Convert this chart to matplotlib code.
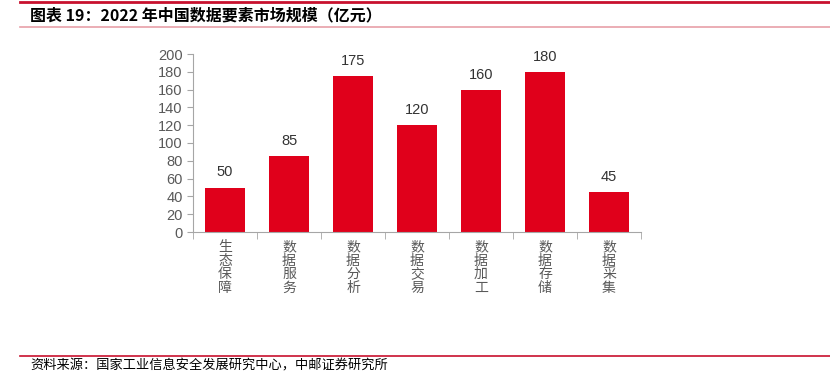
import numpy as np
import matplotlib.pyplot as plt
from matplotlib.lines import Line2D

plt.rcParams['font.family'] = ['Noto Sans CJK SC', 'DejaVu Sans']

# data
categories = ["生态保障", "数据服务", "数据分析", "数据交易", "数据加工", "数据存储", "数据采集"]
values = [50, 85, 175, 120, 160, 180, 45]
yticks = [0, 20, 40, 60, 80, 100, 120, 140, 160, 180, 200]

red = "#e0001b"
grey = "#595959"
num_font = ["Liberation Sans", "DejaVu Sans"]

fig = plt.figure(figsize=(8.3, 3.75), dpi=100)
W, H = 830, 375

# header / footer lines
fig.add_artist(Line2D([20 / W, 1], [1 - 2 / H, 1 - 2 / H], color="#c8102e", lw=2))
fig.add_artist(Line2D([20 / W, 1], [1 - 27 / H, 1 - 27 / H], color="#e8a0a8", lw=1.2))
fig.add_artist(Line2D([20 / W, 1], [1 - 356 / H, 1 - 356 / H], color="#c8102e", lw=1.2))

fig.text(30 / W, 1 - 15 / H, "图表 19：2022 年中国数据要素市场规模（亿元）",
         fontsize=11.5, fontweight="bold", va="center", ha="left", color="black")
fig.text(30 / W, 1 - 366 / H, "资料来源：国家工业信息安全发展研究中心，中邮证券研究所",
         fontsize=9.5, va="center", ha="left", color="black")

# axes area: x 193..641, y 54..232 (pixels)
ax = fig.add_axes([193 / W, 1 - 232 / H, (641 - 193) / W, (232 - 54) / H])
x = np.arange(len(categories))
ax.bar(x, values, width=0.625, color=red)
for xi, v in zip(x, values):
    ax.text(xi, v + 9, str(v), ha="center", va="bottom", fontsize=10.5,
            color="#333333", family=num_font)

ax.set_xlim(-0.5, len(categories) - 0.5)
ax.set_ylim(0, 200)
ax.set_yticks(yticks)
ax.set_yticklabels([str(t) for t in yticks], family=num_font)
ax.tick_params(axis="y", labelsize=10.5, labelcolor=grey, color="#a6a6a6", length=4)

ax.set_xticks(x)
ax.set_xticklabels(["\n".join(c) for c in categories], fontsize=10, color=grey, linespacing=0.95)
ax.tick_params(axis="x", length=0, pad=6)
ax.set_xticks(np.arange(len(categories) + 1) - 0.5, minor=True)
ax.tick_params(axis="x", which="minor", length=5, color="#a6a6a6")

for s in ["top", "right"]:
    ax.spines[s].set_visible(False)
for s in ["left", "bottom"]:
    ax.spines[s].set_color("#a6a6a6")

fig.savefig("out.png", dpi=100)
